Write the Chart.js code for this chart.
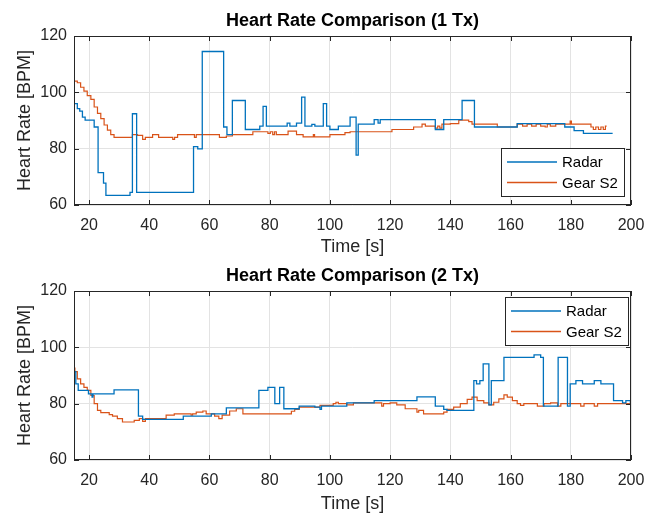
<!DOCTYPE html>
<html>
<head>
<meta charset="utf-8">
<script src="https://cdn.jsdelivr.net/npm/chart.js@4.4.1/dist/chart.umd.min.js"></script>
<style>
  body { margin: 0; background: #fff; }
  canvas { position: absolute; left: 0; }
</style>
</head>
<body>
<canvas id="c1" width="656" height="258" style="top:0"></canvas>
<canvas id="c2" width="656" height="257" style="top:258px"></canvas>
<script>
// tick labels
const xTicks = [20, 40, 60, 80, 100, 120, 140, 160, 180, 200];
const yTicks = [60, 80, 100, 120];
const seriesNames = ['Radar', 'Gear S2'];

// 1 Tx - radar (time in s, heart rate in BPM)
const radar1T = [15, 16.1, 16.9, 17.8, 18.7, 21.7, 23, 24.8, 25.6, 33.6, 34.4, 35.8, 54.7, 56.1, 57.6, 64.7, 65.8, 67.6, 71.9, 76.7,
  77.8, 78.9, 85.8, 86.7, 88.9, 90.6, 91.7, 94, 95, 97.8, 98.9, 100, 102.8, 106.7, 108.7, 109.4, 114.7, 116, 116.7, 135,
  137.8, 143.9, 148, 162.2, 178, 181.1, 184.2, 193.9];
const radar1V = [96, 94.2, 93.3, 91.2, 90.1, 87.7, 71.5, 67.8, 63.4, 64.5, 92.4, 64.5, 80.7, 79.9, 114.5, 87.7, 85, 97.1, 86.8, 88,
  95, 88, 89.1, 88, 89.1, 98.3, 88, 88.6, 88, 96, 88, 86.8, 88, 91.2, 77.7, 88.7, 90.3, 89.1, 90.3, 86.8,
  90.3, 97.1, 87.7, 88.9, 87.7, 86.4, 85.4, 85.4];

// 1 Tx - Gear S2
const gear1T = [15, 16.1, 17.2, 18.3, 19.4, 20.6, 21.7, 22.8, 23.9, 25, 26.1, 27.2, 28.3, 34.4, 36.1, 37.8, 38.7, 41.1, 43.1, 47.8,
  48.4, 49.4, 55, 55.6, 63.3, 65.6, 67.6, 74.4, 79.4, 80.2, 81, 81.6, 82.2, 86.1, 88.9, 91.1, 94.5, 94.9, 100, 105,
  106.7, 120.6, 127.8, 130.6, 131.7, 135, 135.8, 136.5, 137.2, 140, 142.8, 146.1, 147.2, 155.6, 162.2, 164, 165.5, 167, 168.5, 170,
  171.5, 172.2, 173.2, 175, 179.8, 180.2, 186.7, 187.5, 188.3, 189.2, 190, 190.8, 191.5, 191.9];
const gear1V = [104, 103.4, 101.8, 100.4, 98.8, 97.5, 94.8, 92.5, 90.7, 88.4, 86.6, 85, 84, 85, 84.7, 83.3, 84, 85, 84, 83.3,
  84, 85, 84, 85, 84, 84.5, 85, 86, 85.4, 86, 85, 86, 85, 86.2, 85, 84.2, 85, 84.2, 85, 85.7,
  86, 86.8, 87.7, 88.7, 88, 87.3, 88, 87.3, 88.7, 88.9, 90.1, 89.6, 88.7, 87.7, 88.7, 88, 88.7, 88, 88.7, 88,
  87.7, 88.7, 88, 88.7, 89.8, 88.7, 87.7, 86.8, 87.7, 86.8, 87.7, 86.8, 88, 88];

// 2 Tx - radar
const radar2T = [15, 15.6, 16.4, 19.8, 21, 21.3, 28.3, 36.4, 37.8, 51.3, 60.6, 65.6, 76.4, 79.4, 81.7, 83.3, 84.7, 89.8, 95, 96.7,
  97.2, 105.6, 114.7, 128.9, 135, 137.8, 138.9, 147.8, 148.7, 149.8, 150.9, 152.8, 153.6, 157.8, 167.8, 170, 170.9, 175.8, 178.9, 179.8,
  181.7, 183.9, 187.8, 190, 194.2, 197.2, 198.3, 199.8, 200];
const radar2V = [91.4, 87, 84.7, 83.5, 82.3, 83.5, 84.9, 75.6, 74.4, 75.6, 76.4, 78.5, 84.7, 85.8, 80, 85.8, 78.2, 79.1, 78.8, 78,
  79.1, 80.3, 81.1, 82.4, 79.1, 78, 77.6, 88.2, 87, 88.2, 94.1, 79.6, 88.2, 96.4, 97.3, 96.4, 79.1, 96.4, 79.1, 87,
  88.2, 87, 88.2, 87, 81.1, 80.3, 81.1, 80, 80];

// 2 Tx - Gear S2
const gear2T = [15, 15.3, 16.1, 17.2, 18.3, 19.4, 20.6, 21.7, 22.8, 23.9, 26.7, 27.8, 29.4, 31.1, 35, 36.7, 37.8, 38.7, 45.6, 48.3,
  53.9, 54.4, 55.6, 57.8, 58.9, 61.7, 63.1, 64.2, 66.7, 68.9, 71.1, 87.2, 88.3, 89.8, 96.7, 101.1, 102, 102.8, 105.6, 107.8,
  117.2, 117.8, 120, 122.2, 125, 128.9, 129.5, 131.1, 137.8, 138.9, 141.1, 143.3, 145.6, 147.2, 148.9, 151.1, 152.8, 154.4, 156.1, 157.8,
  158.9, 160.6, 162.2, 163.3, 164.4, 168.9, 171.1, 173.3, 175.6, 176.7, 183.3, 184.4, 187.8, 188.9, 200];
const gear2V = [92.6, 91.4, 88.8, 87, 85.8, 84.7, 82.9, 80, 77.6, 76.8, 76.1, 75.6, 74.7, 73.5, 74.1, 74.7, 73.7, 74.7, 75.9, 76.4,
  75.9, 76.4, 77, 77.4, 76.4, 75.6, 74.7, 75.9, 77.4, 78.2, 76.4, 77.3, 78, 78.8, 79.4, 80, 80.5, 80, 79.6, 80.3,
  79.1, 80, 80.3, 79.6, 78.2, 77, 77.6, 76.4, 77, 78, 78.8, 80, 81.5, 82.3, 81.1, 80.3, 79.6, 80.5, 81.7, 83.1,
  82.3, 81.1, 80, 79.4, 80, 79.1, 80, 80.3, 79.1, 80, 79.1, 80, 79.1, 80, 79.4];

const FONT = '"Liberation Sans", Arial, Helvetica, sans-serif';
const INK = '#262626';
Chart.defaults.font.family = FONT;
Chart.defaults.color = INK;

const toXY = (ts, vs) => ts.map((t, i) => ({ x: t, y: vs[i] }));

// axes box with inward ticks on all four sides (matlab look)
const frame = {
  id: 'frame',
  afterDatasetsDraw(chart) {
    const { ctx, chartArea: a, scales: { x, y } } = chart;
    ctx.save();
    ctx.strokeStyle = INK;
    ctx.lineWidth = 1;
    ctx.beginPath();
    x.ticks.forEach(t => {
      const px = Math.round(x.getPixelForValue(t.value)) + 0.5;
      ctx.moveTo(px, a.bottom); ctx.lineTo(px, a.bottom - 5);
      ctx.moveTo(px, a.top); ctx.lineTo(px, a.top + 5);
    });
    y.ticks.forEach(t => {
      const py = Math.round(y.getPixelForValue(t.value)) + 0.5;
      ctx.moveTo(a.left, py); ctx.lineTo(a.left + 5, py);
      ctx.moveTo(a.right, py); ctx.lineTo(a.right - 5, py);
    });
    ctx.stroke();
    ctx.strokeRect(Math.round(a.left) + 0.5, Math.round(a.top) + 0.5, Math.round(a.width) - 1, Math.round(a.height) - 1);
    ctx.restore();
  }
};

// legend box inside the axes
const boxLegend = {
  id: 'boxLegend',
  afterDraw(chart, args, opts) {
    const { ctx, chartArea: a } = chart;
    const w = 123, h = 48;
    const left = Math.round(a.right - opts.right - w);
    const top = Math.round(opts.top != null ? a.top + opts.top : a.bottom - opts.bottom - h);
    ctx.save();
    ctx.fillStyle = '#fff';
    ctx.fillRect(left, top, w, h);
    ctx.strokeStyle = INK;
    ctx.lineWidth = 1;
    ctx.strokeRect(left + 0.5, top + 0.5, w, h);
    ctx.font = '15px ' + FONT;
    ctx.textBaseline = 'middle';
    chart.data.datasets.forEach((ds, i) => {
      const yy = top + 14 + i * 20.5;
      ctx.strokeStyle = ds.borderColor;
      ctx.lineWidth = 1.3;
      ctx.beginPath();
      ctx.moveTo(left + 6, yy); ctx.lineTo(left + 56, yy);
      ctx.stroke();
      ctx.fillStyle = '#000';
      ctx.fillText(ds.label, left + 61, yy + 1);
    });
    ctx.restore();
  }
};

function makeChart(id, title, rT, rV, gT, gV, o) {
  return new Chart(document.getElementById(id), {
    type: 'line',
    data: {
      datasets: [
        { label: seriesNames[0], data: toXY(rT, rV), borderColor: '#0072BD', borderWidth: 1.3, stepped: true, pointRadius: 0 },
        { label: seriesNames[1], data: toXY(gT, gV), borderColor: '#D95319', borderWidth: 1.2, stepped: true, pointRadius: 0 }
      ]
    },
    options: {
      responsive: false,
      animation: false,
      layout: { padding: { left: 0, right: 25, top: 0, bottom: 0 } },
      plugins: {
        legend: { display: false },
        tooltip: { enabled: false },
        title: {
          display: true, text: title, fullSize: false, color: '#000',
          font: { size: 18, weight: 'bold' },
          padding: { top: o.titleTop, bottom: o.titleBottom }
        },
        boxLegend: o.legend
      },
      scales: {
        x: {
          type: 'linear', min: 15, max: 200,
          afterBuildTicks: s => { s.ticks = xTicks.map(v => ({ value: v })); },
          afterFit: s => { s.height = o.xHeight; },
          grid: { color: '#e3e3e3', drawTicks: false },
          border: { display: false },
          ticks: { padding: 10.7, font: { size: 16 }, color: INK },
          title: { display: true, text: 'Time [s]', font: { size: 18 }, color: INK, padding: 0 }
        },
        y: {
          type: 'linear', min: 60, max: 120,
          afterBuildTicks: s => { s.ticks = yTicks.map(v => ({ value: v })); },
          afterFit: s => { s.width = 74; },
          grid: { color: '#e3e3e3', drawTicks: false },
          border: { display: false },
          ticks: { padding: 7, font: { size: 16 }, color: INK },
          title: { display: true, text: 'Heart Rate [BPM]', font: { size: 18 }, color: INK, padding: { top: 14, bottom: 0 } }
        }
      }
    },
    plugins: [frame, boxLegend]
  });
}

makeChart('c1', 'Heart Rate Comparison (1 Tx)', radar1T, radar1V, gear1T, gear1V,
  { titleTop: 10.2, titleBottom: 4.2, xHeight: 53, legend: { right: 6.7, bottom: 9 } });
makeChart('c2', 'Heart Rate Comparison (2 Tx)', radar2T, radar2V, gear2T, gear2V,
  { titleTop: 7.2, titleBottom: 4.2, xHeight: 55, legend: { right: 2.7, top: 6.3 } });
</script>
</body>
</html>
